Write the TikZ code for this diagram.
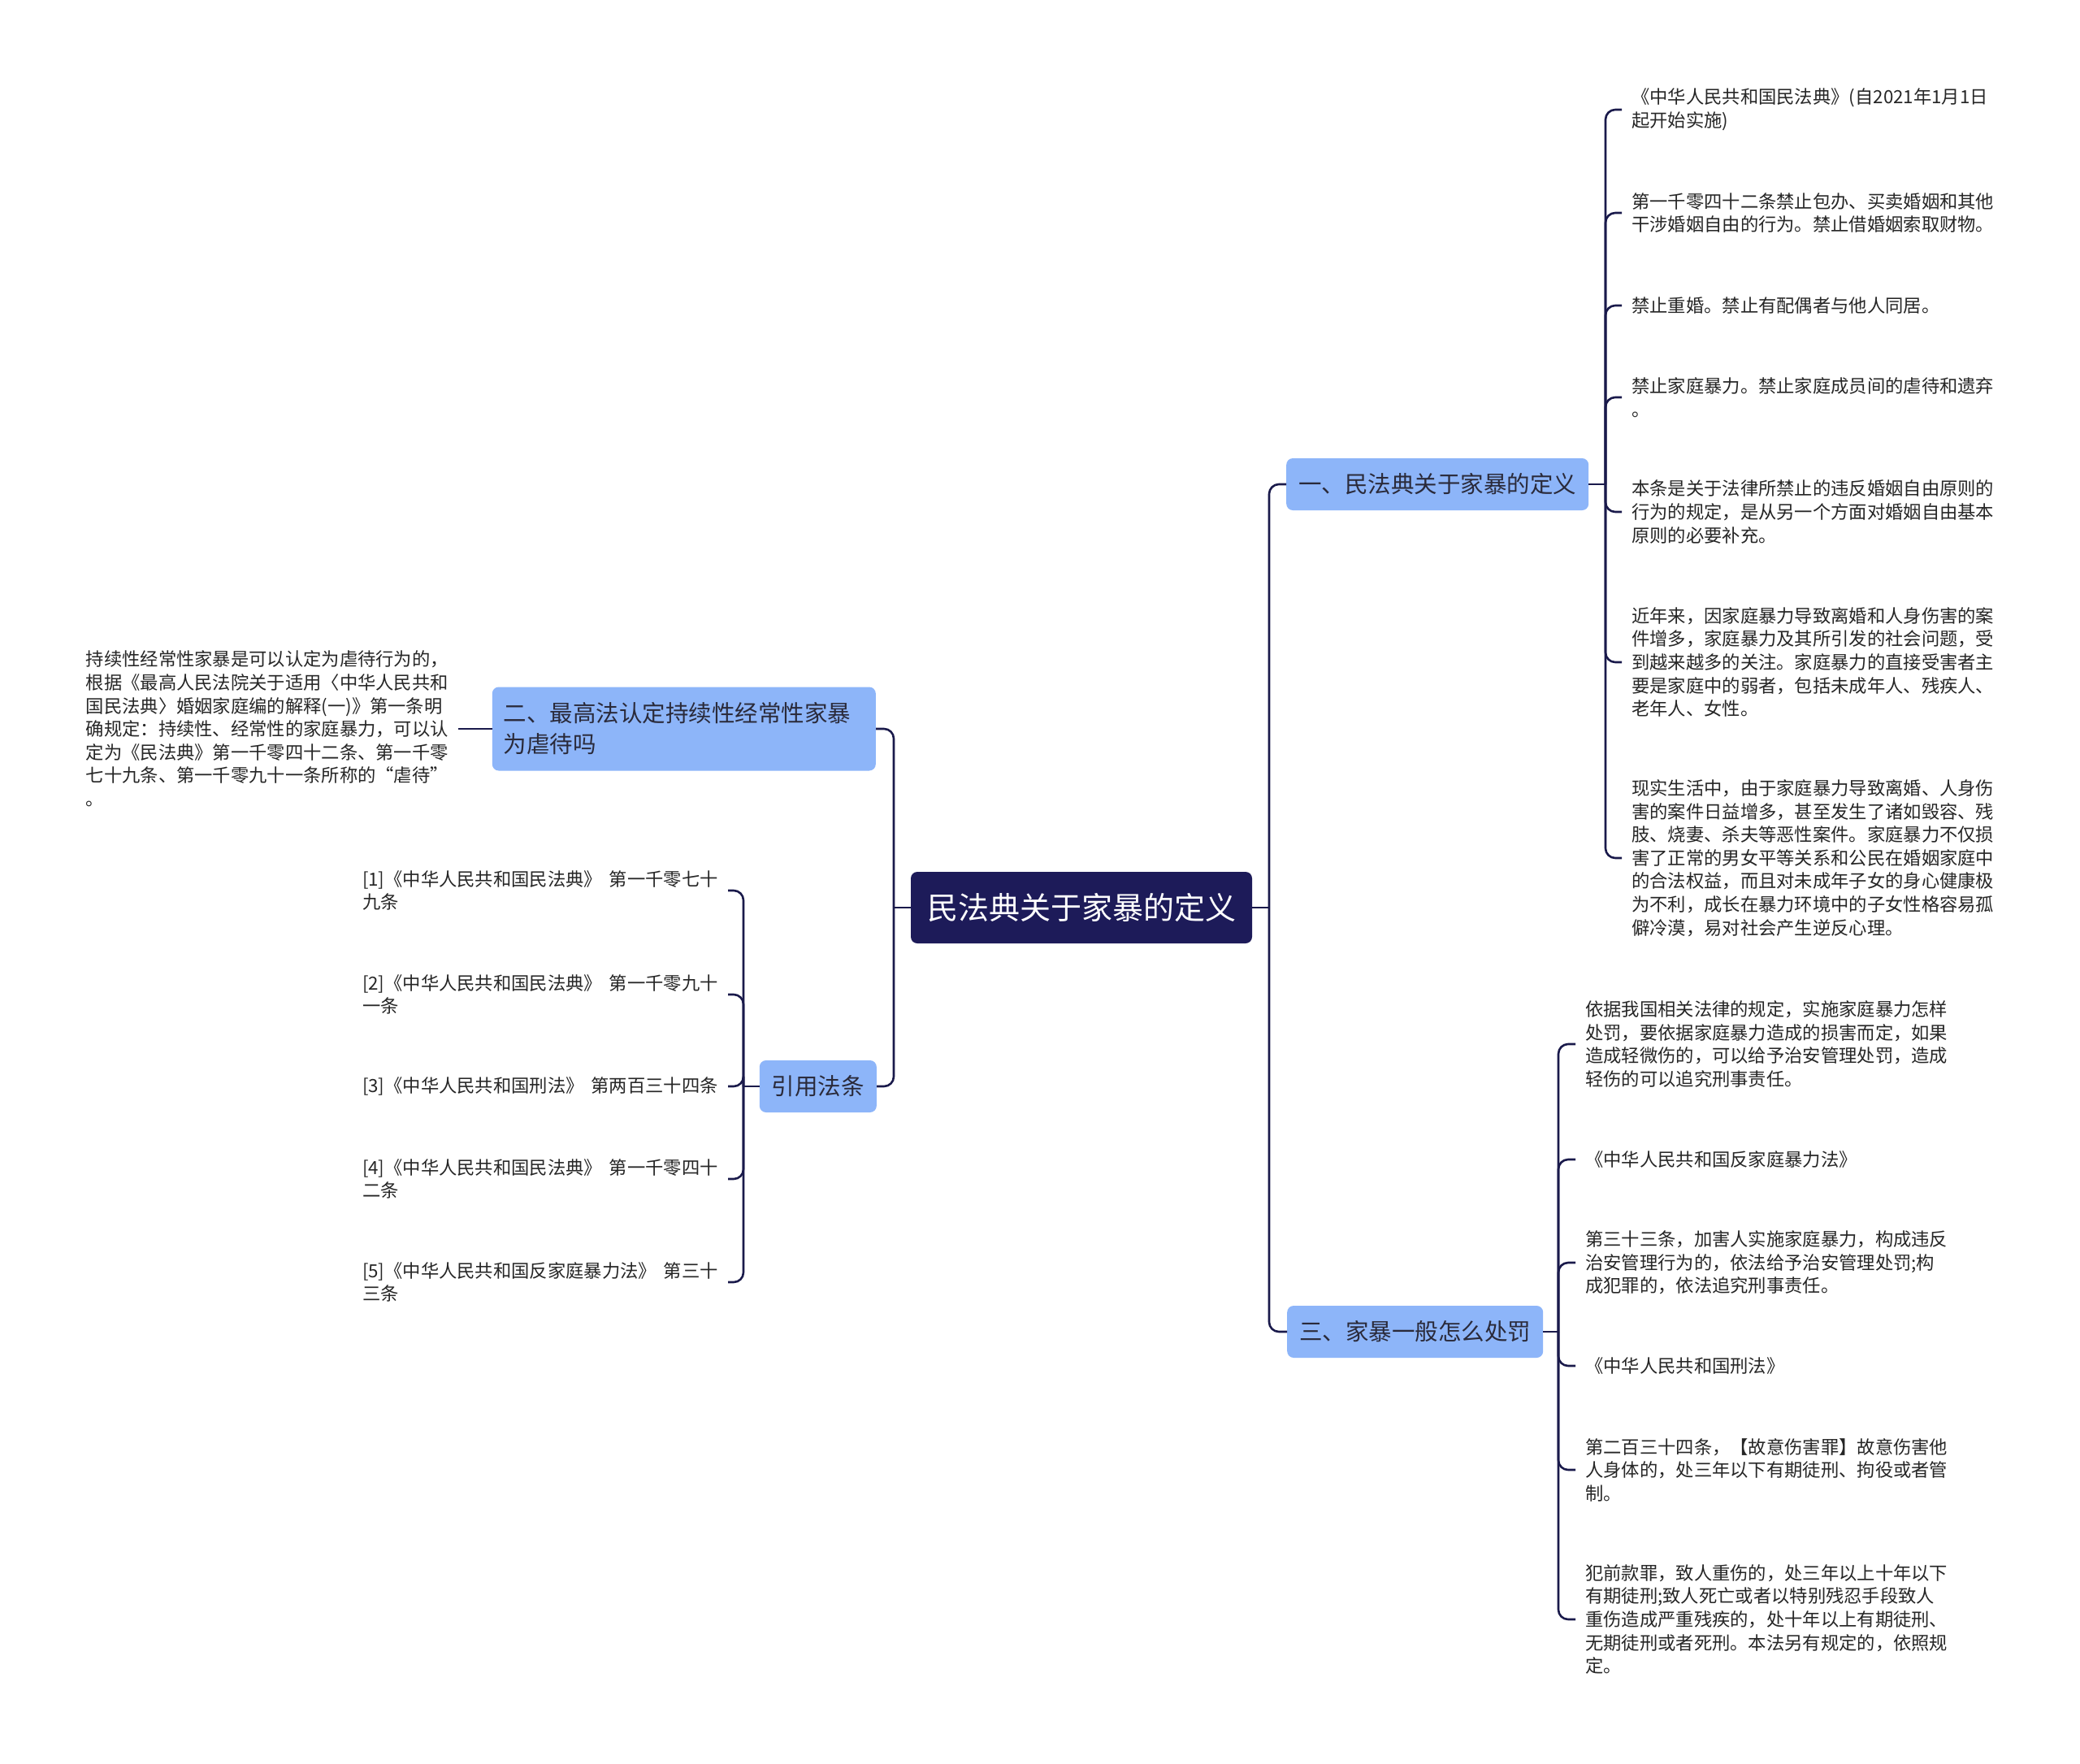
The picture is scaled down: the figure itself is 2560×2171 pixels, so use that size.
\documentclass[tikz,border=0pt]{standalone}
\usepackage{fontspec}
\setmainfont{Noto Sans CJK SC}
\definecolor{rootnavy}{HTML}{1D1B59}
\definecolor{linknavy}{HTML}{1A1A4B}
\definecolor{topicblue}{HTML}{8DB5F9}
\definecolor{topictext}{HTML}{2A2A3A}
\definecolor{leaftext}{HTML}{262626}
\newcommand{\gapsp}{\hspace{0.4em}}

\begin{document}
\begin{tikzpicture}[x=1pt, y=-1pt,
  link/.style={draw=linknavy, line width=2.6pt, rounded corners=12pt},
  root/.style={fill=rootnavy, text=white, rounded corners=8pt, minimum width=420pt, minimum height=88pt, inner sep=0pt, font=\fontsize{38}{44}\selectfont},
  topic/.style={fill=topicblue, text=topictext, rounded corners=8pt, minimum height=64pt, inner xsep=15pt, inner ysep=0pt, font=\fontsize{28.5}{38}\selectfont},
  leaf/.style={text=leaftext, align=left, inner xsep=12pt, inner ysep=0pt, font=\fontsize{22.3}{28.6}\selectfont}]
\fill[white] (0,0) rectangle (2560,2171);
\useasboundingbox (0,0) rectangle (2560,2171);

\node[root] (root) at (1331,1117) {民法典关于家暴的定义};
\node[topic, anchor=west] (sec1) at (1583,596) {一、民法典关于家暴的定义};
\node[topic, anchor=west] (sec3) at (1584,1639) {三、家暴一般怎么处罚};
\node[topic, anchor=east, text width=444pt, align=left, minimum height=103pt, inner xsep=14pt] (sec2) at (1078,897) {二、最高法认定持续性经常性家暴\\为虐待吗};
\node[topic, anchor=east, minimum width=142pt] (cite) at (1079,1337) {引用法条};

\draw[link] (root.east) -- (1562,1117);
\draw[link] (sec1.west) -| (1562,1117) |- (sec3.west);
\draw[link] (root.west) -- (1100,1117);
\draw[link] (sec2.east) -| (1100,1117) |- (cite.east);

% section one
\draw[link] (sec1.east) -- (1976,596);
\foreach \n/\y/\t in {
  1/135/{《中华人民共和国民法典》(自2021年1月1日\\起开始实施)},
  2/262/{第一千零四十二条禁止包办、买卖婚姻和其他\\干涉婚姻自由的行为。禁止借婚姻索取财物。},
  3/376/{禁止重婚。禁止有配偶者与他人同居。},
  4/489/{禁止家庭暴力。禁止家庭成员间的虐待和遗弃\\。},
  5/630/{本条是关于法律所禁止的违反婚姻自由原则的\\行为的规定，是从另一个方面对婚姻自由基本\\原则的必要补充。},
  6/815/{近年来，因家庭暴力导致离婚和人身伤害的案\\件增多，家庭暴力及其所引发的社会问题，受\\到越来越多的关注。家庭暴力的直接受害者主\\要是家庭中的弱者，包括未成年人、残疾人、\\老年人、女性。},
  7/1056/{现实生活中，由于家庭暴力导致离婚、人身伤\\害的案件日益增多，甚至发生了诸如毁容、残\\肢、烧妻、杀夫等恶性案件。家庭暴力不仅损\\害了正常的男女平等关系和公民在婚姻家庭中\\的合法权益，而且对未成年子女的身心健康极\\为不利，成长在暴力环境中的子女性格容易孤\\僻冷漠，易对社会产生逆反心理。}} {
  \node[leaf, anchor=west] (a\n) at (1996,\y) {\t};
  \draw[link] (1976,596) |- (a\n.west);
}

% section three
\draw[link] (sec3.east) -- (1918,1639);
\foreach \n/\y/\t in {
  1/1285/{依据我国相关法律的规定，实施家庭暴力怎样\\处罚，要依据家庭暴力造成的损害而定，如果\\造成轻微伤的，可以给予治安管理处罚，造成\\轻伤的可以追究刑事责任。},
  2/1427/{《中华人民共和国反家庭暴力法》},
  3/1554/{第三十三条，加害人实施家庭暴力，构成违反\\治安管理行为的，依法给予治安管理处罚;构\\成犯罪的，依法追究刑事责任。},
  4/1681/{《中华人民共和国刑法》},
  5/1809/{第二百三十四条，【故意伤害罪】故意伤害他\\人身体的，处三年以下有期徒刑、拘役或者管\\制。},
  6/1993/{犯前款罪，致人重伤的，处三年以上十年以下\\有期徒刑;致人死亡或者以特别残忍手段致人\\重伤造成严重残疾的，处十年以上有期徒刑、\\无期徒刑或者死刑。本法另有规定的，依照规\\定。}} {
  \node[leaf, anchor=west] (e\n) at (1939,\y) {\t};
  \draw[link] (1918,1639) |- (e\n.west);
}

% citations
\draw[link] (cite.west) -- (915,1337);
\foreach \n/\y/\t in {
  1/1096/{[1]《中华人民共和国民法典》\gapsp{}第一千零七十\\九条},
  2/1224/{[2]《中华人民共和国民法典》\gapsp{}第一千零九十\\一条},
  3/1337/{[3]《中华人民共和国刑法》\gapsp{}第两百三十四条},
  4/1451/{[4]《中华人民共和国民法典》\gapsp{}第一千零四十\\二条},
  5/1578/{[5]《中华人民共和国反家庭暴力法》\gapsp{}第三十\\三条}} {
  \node[leaf, anchor=east] (c\n) at (896,\y) {\t};
  \draw[link] (915,1337) |- (c\n.east);
}

% section two
\node[leaf, anchor=east] (d1) at (564,897) {持续性经常性家暴是可以认定为虐待行为的，\\根据《最高人民法院关于适用〈中华人民共和\\国民法典〉婚姻家庭编的解释(一)》第一条明\\确规定：持续性、经常性的家庭暴力，可以认\\定为《民法典》第一千零四十二条、第一千零\\七十九条、第一千零九十一条所称的“虐待”\\。};
\draw[link] (sec2.west) -- (d1.east);
\end{tikzpicture}
\end{document}
